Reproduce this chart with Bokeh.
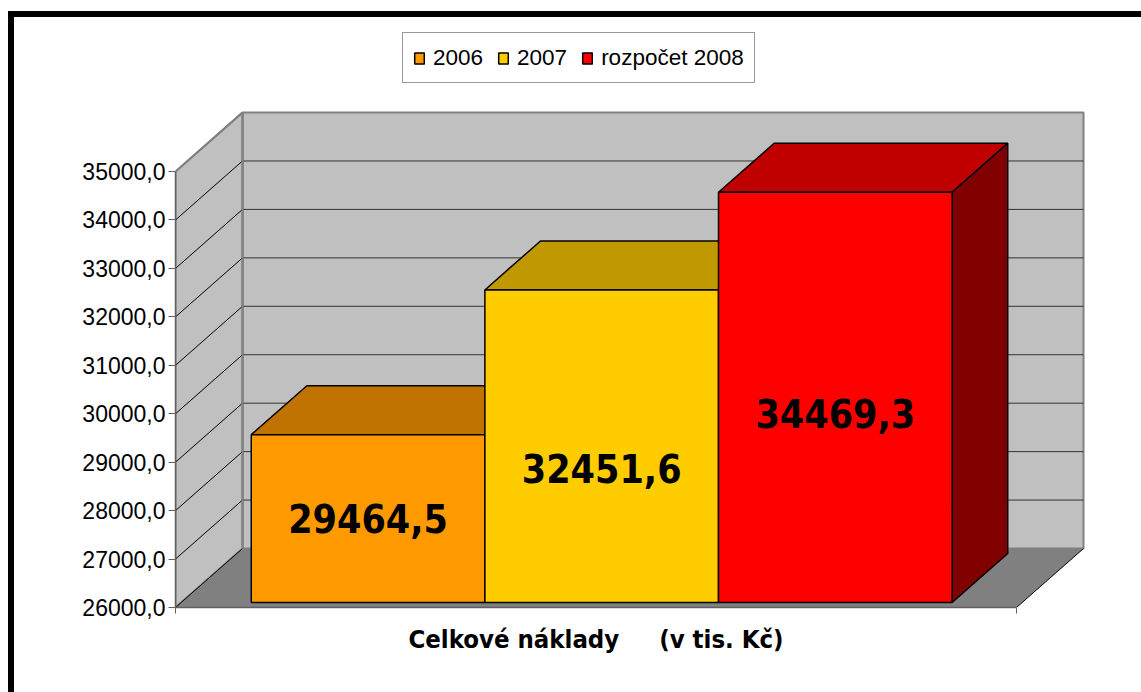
from bokeh.plotting import figure
from bokeh.models import Range1d, FixedTicker, LinearAxis, Legend, LegendItem
from bokeh.core.properties import value
from bokeh.embed import file_html
from bokeh.resources import INLINE

# ---------------- data ----------------
category = "Celkové náklady     (v tis. Kč)"
series = ["2006", "2007", "rozpočet 2008"]
values = [29464.5, 32451.6, 34469.3]
value_labels = ["29464,5", "32451,6", "34469,3"]
y_ticks = [26000, 27000, 28000, 29000, 30000, 31000, 32000, 33000, 34000, 35000]
y_tick_labels = ["26000,0", "27000,0", "28000,0", "29000,0", "30000,0",
                 "31000,0", "32000,0", "33000,0", "34000,0", "35000,0"]

# ---------------- styles ----------------
front_colors = ["#FF9900", "#FFCC00", "#FF0000"]
top_colors = ["#C07300", "#C09900", "#C00000"]
side_colors = ["#804D00", "#806600", "#800000"]
label_frac = [0.5, 0.43, 0.46]          # vertical position of value labels within bars

SANS = "Liberation Sans"
BOLD = "DejaVu Sans Condensed"

# layout (pixels)
FRAME_W, FRAME_H = 966, 590
PX_PER_CAT = 841.0         # pixels per category unit on the front plane
PX_PER_VAL = 48.44 / 1000  # pixels per value unit
DEPTH_PX_X, DEPTH_PX_Y = 67.0, 59.0

DX = DEPTH_PX_X / PX_PER_CAT
DY = DEPTH_PX_Y / PX_PER_VAL
Y0, YTOP = y_ticks[0], y_ticks[-1]
XEND = FRAME_W / PX_PER_CAT
YEND = Y0 + FRAME_H / PX_PER_VAL

GAP = 0.6
BW = 1.0 / (len(series) + GAP)
F0, F1 = 0.085, 0.915

p = figure(frame_width=FRAME_W, frame_height=FRAME_H,
           x_range=Range1d(0, XEND), y_range=Range1d(Y0, YEND),
           output_backend="svg", toolbar_location=None,
           x_axis_location=None, y_axis_location="left",
           min_border_left=161, min_border_right=0, min_border_top=0, min_border_bottom=85)
p.outline_line_color = None
p.grid.visible = False
p.background_fill_color = "white"
p.border_fill_color = "white"
p.styles = {"border-left": "6px solid black", "border-top": "6px solid black",
            "margin-top": "11px", "margin-left": "8px"}

# ---- walls ----
p.quad(left=[DX], right=[1 + DX], bottom=[Y0 + DY], top=[YTOP + DY],
       fill_color="#C0C0C0", line_color="#808080", line_width=2)
p.patch(x=[0, DX, DX, 0], y=[Y0, Y0 + DY, YTOP + DY, YTOP],
        fill_color="#C0C0C0", line_color="#808080", line_width=2)
p.patch(x=[0, 1, 1 + DX, DX], y=[Y0, Y0, Y0 + DY, Y0 + DY],
        fill_color="#808080", line_color=None)
p.segment(x0=[1], y0=[Y0], x1=[1 + DX], y1=[Y0 + DY], line_color="black", line_width=1)

# gridlines
inner = y_ticks[1:-1]
p.segment(x0=[DX] * len(inner), y0=[t + DY for t in inner],
          x1=[1 + DX] * len(inner), y1=[t + DY for t in inner],
          line_color="#333333", line_width=1)
p.segment(x0=[0] * len(y_ticks[:-1]), y0=y_ticks[:-1],
          x1=[DX] * len(y_ticks[:-1]), y1=[t + DY for t in y_ticks[:-1]],
          line_color="black", line_width=1)
p.segment(x0=[0], y0=[YTOP], x1=[DX], y1=[YTOP + DY], line_color="#808080", line_width=2)
p.segment(x0=[DX], y0=[Y0 + DY], x1=[DX], y1=[YTOP + DY], line_color="#808080", line_width=2)

# ---- bars ----
items = []
for i, (s, v) in enumerate(zip(series, values)):
    xl = GAP / 2 * BW + i * BW
    xr = xl + BW
    p.patch(x=[xl + F0 * DX, xr + F0 * DX, xr + F1 * DX, xl + F1 * DX],
            y=[v + F0 * DY, v + F0 * DY, v + F1 * DY, v + F1 * DY],
            fill_color=top_colors[i], line_color="black", line_width=1.5)
    p.patch(x=[xr + F0 * DX, xr + F1 * DX, xr + F1 * DX, xr + F0 * DX],
            y=[Y0 + F0 * DY, Y0 + F1 * DY, v + F1 * DY, v + F0 * DY],
            fill_color=side_colors[i], line_color="black", line_width=1.5)
    r = p.quad(left=[xl + F0 * DX], right=[xr + F0 * DX],
               bottom=[Y0 + F0 * DY], top=[v + F0 * DY],
               fill_color=front_colors[i], line_color="black", line_width=1.5)
    items.append(LegendItem(label=s, renderers=[r]))

# value labels
lx = [GAP / 2 * BW + i * BW + BW / 2 + F0 * DX for i in range(len(values))]
ly = [Y0 + F0 * DY + f * (v - Y0) for f, v in zip(label_frac, values)]
p.text(x=lx, y=ly, text=value_labels, text_font=value(BOLD), text_font_style="bold",
       text_font_size="39px", text_align="center", text_baseline="middle", text_color="black")

# ---- axes ----
yax = p.yaxis[0]
yax.ticker = FixedTicker(ticks=y_ticks, minor_ticks=[])
yax.bounds = (Y0, YTOP)
yax.major_label_overrides = {t: l for t, l in zip(y_ticks, y_tick_labels)}
yax.axis_line_color = "#606060"
yax.axis_line_width = 1.5
yax.major_tick_line_color = "#606060"
yax.major_tick_out = 7
yax.major_tick_in = 0
yax.minor_tick_out = 0
yax.minor_tick_in = 0
yax.major_label_standoff = 3
yax.major_label_text_font = SANS
yax.major_label_text_font_size = "23px"
yax.major_label_text_color = "black"

xax = LinearAxis(ticker=FixedTicker(ticks=[0, 1], minor_ticks=[]), bounds=(0, 1),
                 axis_line_color="#606060", axis_line_width=1.5,
                 major_tick_line_color="#606060", major_tick_out=6, major_tick_in=0,
                 minor_tick_out=0, minor_tick_in=0,
                 major_label_overrides={0: "", 1: ""}, major_label_text_font_size="1px",
                 major_label_standoff=0)
p.add_layout(xax, "below")
xax2 = LinearAxis(ticker=FixedTicker(ticks=[0.5], minor_ticks=[]), bounds=(0, 1),
                  axis_line_color=None, major_tick_line_color=None,
                  minor_tick_out=0, minor_tick_in=0, major_tick_out=0, major_tick_in=0,
                  major_label_overrides={0.5: category.replace(" ", "\u00a0")},
                  major_label_text_font=BOLD, major_label_text_font_style="bold",
                  major_label_text_font_size="25.5px", major_label_text_color="black",
                  major_label_standoff=10)
p.add_layout(xax2, "below")

legend = Legend(items=items, orientation="horizontal", location=(227, 524),
                border_line_color="#333333", border_line_width=1,
                background_fill_color="white", background_fill_alpha=1.0,
                padding=10, spacing=14, label_standoff=8, margin=0,
                glyph_width=12, glyph_height=14, label_height=29,
                label_text_font=SANS, label_text_font_size="22.5px", label_text_color="black")
p.add_layout(legend)

open("out.html", "w").write(file_html(p, INLINE))
